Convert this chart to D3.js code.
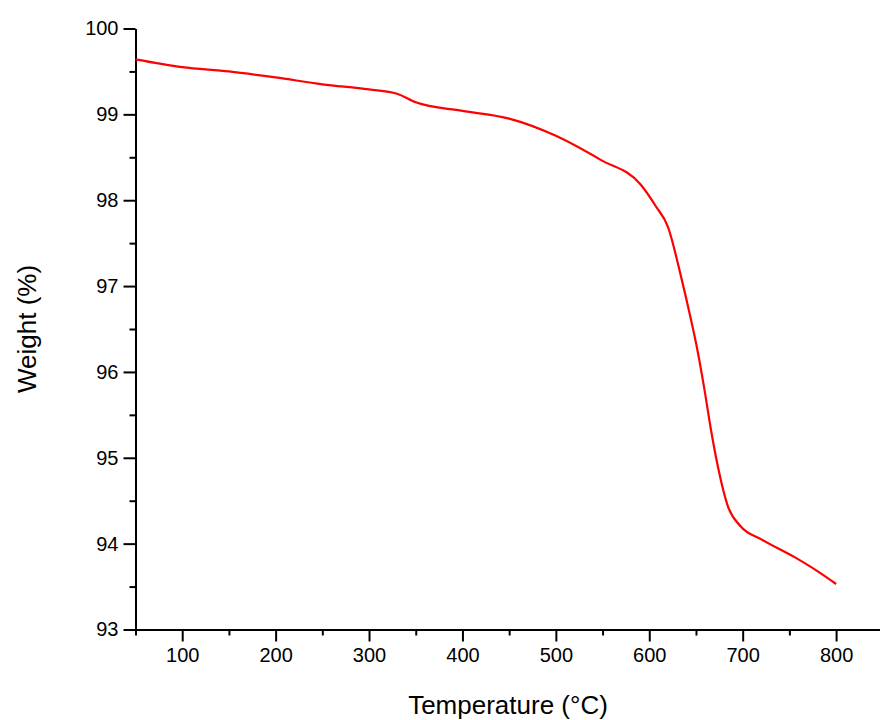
<!DOCTYPE html>
<html><head><meta charset="utf-8">
<script src="https://cdn.jsdelivr.net/npm/d3@7"></script>
<style>body{margin:0;background:#fff}svg{font-family:"Liberation Sans",Arial,sans-serif}</style>
</head><body><svg id="c" width="880" height="720"></svg>
<script>
const temps   = [50, 100, 150, 200, 250, 300, 330, 350, 400, 450, 500, 548, 591, 607, 620, 634, 643, 652, 659, 666, 674, 684, 698, 720, 756, 780, 800];
const weights = [99.64, 99.55, 99.5, 99.43, 99.35, 99.29, 99.24, 99.14, 99.04, 98.95, 98.75, 98.47, 98.18, 97.93, 97.69, 97.11, 96.69, 96.23, 95.8, 95.33, 94.87, 94.44, 94.2, 94.05, 93.84, 93.68, 93.53];
const xTicks = [100, 200, 300, 400, 500, 600, 700, 800];
const yTicks = [93, 94, 95, 96, 97, 98, 99, 100];

const svg = d3.select("#c");
const x = d3.scaleLinear().domain([50, 847]).range([135.5, 880]);
const y = d3.scaleLinear().domain([93, 100]).range([629.5, 28.5]);

const xa = svg.append("g").attr("transform", "translate(0,629.5)")
  .call(d3.axisBottom(x).tickValues(d3.range(50, 850, 50)).tickSize(6).tickSizeOuter(0)
    .tickFormat(d => xTicks.includes(d) ? d : ""));
xa.selectAll(".tick line").attr("y2", d => xTicks.includes(d) ? 12 : 6);
const ya = svg.append("g").attr("transform", "translate(135.5,0)")
  .call(d3.axisLeft(y).tickValues(d3.range(93, 100.01, 0.5)).tickSize(6).tickSizeOuter(0)
    .tickFormat(d => yTicks.includes(d) ? d : ""));
ya.selectAll(".tick line").attr("x2", d => yTicks.includes(d) ? -12 : -6);
svg.selectAll(".domain, .tick line").attr("stroke", "#000").attr("stroke-width", 2);
xa.selectAll("text").attr("font-size", 20).attr("y", 18).attr("fill", "#000");
ya.selectAll("text").attr("font-size", 20).attr("x", -17).attr("fill", "#000");

svg.append("path").datum(temps.map((t, i) => [t, weights[i]]))
  .attr("fill", "none").attr("stroke", "#f00").attr("stroke-width", 2.2)
  .attr("d", d3.line().x(d => x(d[0])).y(d => y(d[1])).curve(d3.curveMonotoneX));

svg.append("text").attr("x", 508).attr("y", 714).attr("text-anchor", "middle")
  .attr("font-size", 26).text("Temperature (°C)");
svg.append("text").attr("transform", "translate(36,329) rotate(-90)").attr("text-anchor", "middle")
  .attr("font-size", 26).text("Weight (%)");
</script></body></html>
